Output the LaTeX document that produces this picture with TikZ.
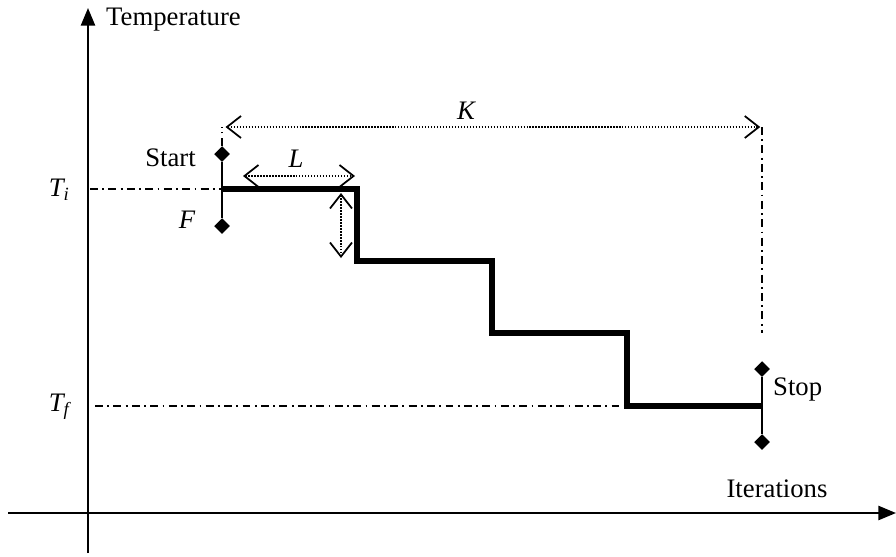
\documentclass[tikz,border=0pt]{standalone}
\usepackage{fontspec}
\setmainfont{Liberation Serif}
\usetikzlibrary{arrows.meta,shapes.geometric}

\begin{document}
\begin{tikzpicture}[
  x=0.02cm,
  y=-0.02cm,
  every node/.style={font=\fontsize{15.2}{18}\selectfont},
  axis/.style={line width=1.2pt, -{Triangle[length=10pt,width=8pt]}},
  stair/.style={line width=3pt, line join=miter},
  bar/.style={line width=1.1pt},
  guide/.style={line width=0.8pt, dash pattern=on 4.5pt off 2.5pt on 1pt off 2.5pt},
  span/.style={line width=1pt, dash pattern=on 0.8pt off 0.9pt,
    {Straight Barb[length=8pt,width=12.5pt,line width=1pt]}-{Straight Barb[length=8pt,width=12.5pt,line width=1pt]}},
  endpt/.style={diamond, fill=black, inner sep=0pt, minimum size=9pt}
]
  \useasboundingbox (0,0) rectangle (896,556);

  % ---- axes ----
  \coordinate (xbeg) at (8,513);
  \coordinate (xend) at (896,513);
  \coordinate (ybeg) at (88,553);
  \coordinate (yend) at (88,8);
  \draw[axis] (xbeg) -- (xend);
  \draw[axis] (ybeg) -- (yend);
  \node[anchor=west] (templab) at (100,20) {Temperature};
  \node (iterlab) at (777,489) {Iterations};

  % ---- temperature levels ----
  \coordinate (ti) at (90,189);
  \coordinate (tf) at (95,406);
  \node[anchor=east] (tilab) at (76,190) {\itshape T\textsubscript{i}};
  \node[anchor=east] (tflab) at (76,407) {\itshape T\textsubscript{f}};

  % ---- staircase ----
  \coordinate (s0) at (222,189);
  \coordinate (s1) at (357,261);
  \coordinate (s2) at (492,333);
  \coordinate (s3) at (627,406);
  \coordinate (s4) at (762,406);
  \draw[guide] (ti) -- (s0);
  \draw[guide] (tf) -- (s3);
  \draw[stair] (s0) -| (s1) -| (s2) -| (s3) -- (s4);

  % ---- start and stop markers ----
  \node[endpt] (starthi) at (222,154) {};
  \node[endpt] (startlo) at (222,226) {};
  \draw[bar] (starthi) -- (startlo);
  \node[anchor=east] (startlab) at (202,158) {Start};
  \node (flab) at (187,220) {\itshape F};

  \node[endpt] (stophi) at (762,369) {};
  \node[endpt] (stoplo) at (762,442) {};
  \draw[bar] (stophi) -- (stoplo);
  \node[anchor=west] (stoplab) at (767,389) {Stop};

  % ---- span K ----
  \coordinate (kl) at (222,127);
  \coordinate (kr) at (762,127);
  \coordinate (kdown) at (762,333);
  \draw[guide] (starthi) -- (kl);
  \draw[guide] (kr) -- (kdown);
  \draw[span] ([xshift=2pt]kl) -- ([xshift=-1pt]kr);
  \node (klab) at (466,111) {\itshape K};

  % ---- span L and step height ----
  \coordinate (ll) at (243,176);
  \coordinate (lr) at (355,176);
  \draw[span] (ll) -- (lr);
  \node (llab) at (296,159) {\itshape L};
  \coordinate (hu) at (341,193);
  \coordinate (hd) at (341,258);
  \draw[span] (hu) -- (hd);
\end{tikzpicture}
\end{document}
